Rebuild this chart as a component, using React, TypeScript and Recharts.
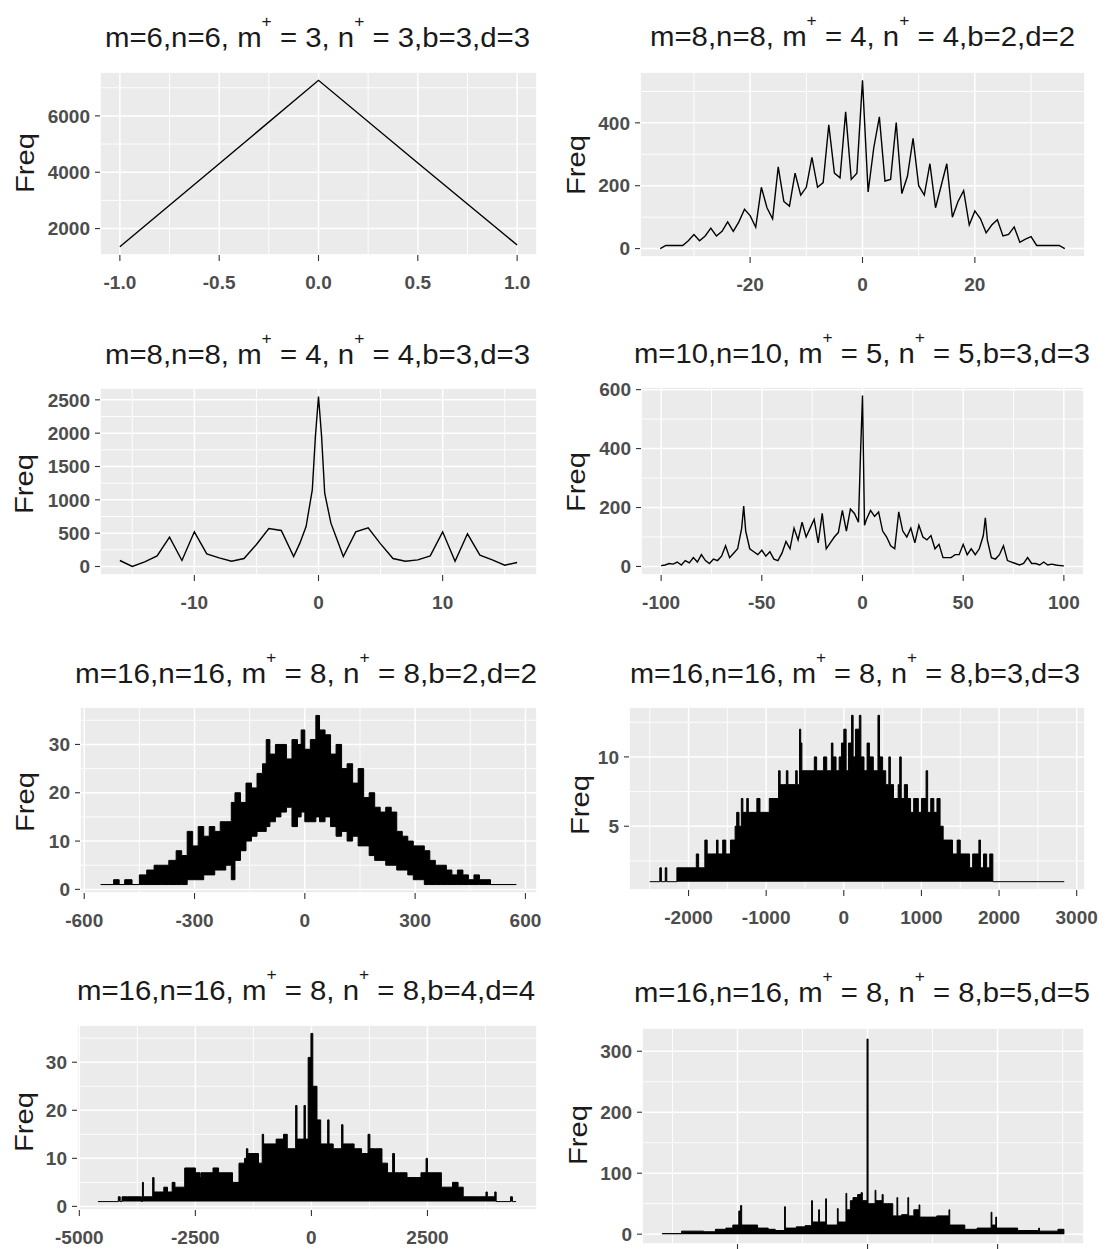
import React from "react";
import { ComposedChart, Line, Area, XAxis, YAxis, CartesianGrid } from "recharts";

const FONT = "'Liberation Sans', Arial, Helvetica, sans-serif";

// m, n, m+, n+, b, d for each panel title
const titleParams = [
  [6, 6, 3, 3, 3, 3],
  [8, 8, 4, 4, 2, 2],
  [8, 8, 4, 4, 3, 3],
  [10, 10, 5, 5, 3, 3],
  [16, 16, 8, 8, 2, 2],
  [16, 16, 8, 8, 3, 3],
  [16, 16, 8, 8, 4, 4],
  [16, 16, 8, 8, 5, 5],
];

// panel 1
const p1X = [-1, -0.5, 0, 0.5, 1];
const p1Freq = [1357, 4300, 7263, 4330, 1415];

// panel 2
const p2X = [
  -36, -35, -34, -33, -32, -31, -30, -29, -28, -27, -26, -25, -24, -23, -22, -21, -20, -19, -18,
  -17, -16, -15, -14, -13, -12, -11, -10, -9, -8, -7, -6, -5, -4, -3, -2, -1, 0, 1, 2, 3, 4, 5,
  6, 7, 8, 9, 10, 11, 12, 13, 14, 15, 16, 17, 18, 19, 20, 21, 22, 23, 24, 25, 26, 27, 28, 29,
  30, 31, 32, 33, 34, 35, 36,
];
const p2Freq = [
  0, 10, 10, 10, 10, 25, 45, 25, 40, 65, 40, 55, 85, 55, 85, 125, 105, 68, 195, 130, 95, 260,
  150, 135, 240, 170, 195, 290, 195, 210, 394, 240, 225, 435, 220, 240, 535, 180, 320, 419, 215,
  220, 401, 175, 230, 351, 200, 170, 270, 130, 200, 270, 100, 150, 184, 75, 120, 95, 50, 75, 92,
  40, 45, 69, 20, 30, 38, 10, 10, 10, 10, 10, 0,
];

// panel 3
const p3X = [
  -16, -15, -14, -13, -12, -11, -10, -9, -8, -7, -6, -5, -4, -3, -2, -1.5, -1, -0.5, -0.25, 0,
  0.25, 0.5, 1, 1.5, 2, 3, 4, 5, 6, 7, 8, 9, 10, 11, 12, 13, 14, 15, 16,
];
const p3Freq = [
  90, 0, 70, 160, 440, 90, 520, 190, 130, 80, 120, 330, 570, 540, 150, 350, 600, 1150, 1950,
  2550, 1950, 1100, 650, 400, 150, 520, 580, 340, 120, 80, 100, 160, 520, 80, 490, 170, 100, 20,
  60,
];

// panel 4
const p4X = [
  -100, -98, -96, -94, -92, -90, -88, -86, -84, -82, -80, -78, -76, -74, -72, -70, -68, -66, -64,
  -62, -60, -59, -58, -56, -54, -52, -50, -48, -46, -44, -42, -40, -38, -36, -34, -32, -30, -28,
  -26, -24, -22, -20, -18, -16, -14, -12, -10, -8, -6, -4, -2, -1, 0, 1, 2, 4, 6, 8, 10, 12, 14,
  16, 18, 20, 22, 24, 26, 28, 30, 32, 34, 36, 38, 40, 42, 44, 46, 48, 50, 52, 54, 56, 58, 60, 61,
  62, 64, 66, 68, 70, 72, 74, 76, 78, 80, 82, 84, 86, 88, 90, 92, 94, 96, 98, 100,
];
const p4Freq = [
  3, 5, 10, 8, 15, 5, 20, 12, 30, 15, 40, 20, 10, 25, 20, 35, 70, 30, 45, 60, 130, 205, 120, 60,
  50, 40, 55, 35, 50, 25, 20, 45, 85, 60, 130, 90, 150, 100, 130, 160, 80, 180, 60, 80, 100, 115,
  190, 120, 195, 180, 150, 380, 580, 140, 160, 190, 170, 185, 120, 100, 70, 60, 185, 120, 100,
  130, 80, 140, 100, 90, 105, 60, 75, 30, 30, 30, 40, 40, 75, 40, 60, 40, 60, 105, 165, 90, 30,
  25, 40, 70, 20, 15, 10, 5, 10, 30, 10, 10, 5, 15, 5, 8, 5, 3, 2,
];

// panel 5 (dense band: lower and upper edge)
const p5X = [
  -555, -520, -505, -490, -470, -450, -430, -410, -390, -370, -350, -335, -320, -305, -290, -275,
  -260, -245, -230, -215, -200, -190, -175, -160, -145, -130, -115, -105, -95, -80, -65, -50, -35,
  -20, -10, 0, 15, 30, 40, 55, 70, 85, 100, 115, 130, 145, 160, 175, 190, 205, 220, 235, 250, 265,
  280, 295, 310, 325, 340, 355, 370, 385, 400, 415, 430, 445, 460, 475, 490, 505, 575,
];
const p5Low = [
  1, 1, 1, 1, 1, 1, 1, 1, 1, 1, 1, 1, 2, 2, 2, 3, 3, 4, 4, 5, 2, 6, 8, 10, 11, 12, 12, 13, 14, 15,
  16, 17, 13, 15, 16, 14, 14, 15, 14, 15, 13, 11, 12, 10, 11, 9, 9, 7, 6, 6, 5, 5, 4, 4, 3, 2, 2,
  1, 1, 1, 1, 1, 1, 1, 1, 1, 1, 1, 1, 1, 1,
];
const p5High = [
  1, 2, 1, 2, 1, 3, 4, 5, 5, 6, 8, 7, 12, 9, 13, 11, 13, 12, 14, 14, 18, 20, 18, 22, 21, 24, 26,
  31, 28, 30, 30, 27, 31, 30, 33, 29, 31, 36, 33, 32, 28, 30, 25, 26, 22, 25, 19, 20, 17, 16, 17,
  16, 12, 11, 10, 9, 9, 8, 6, 5, 5, 4, 3, 4, 3, 2, 3, 2, 2, 1, 1,
];

// panel 6
const p6X = [
  -2500, -2370, -2350, -2300, -2280, -2150, -2050, -1980, -1900, -1870, -1790, -1760, -1700,
  -1640, -1620, -1560, -1520, -1460, -1400, -1380, -1350, -1320, -1300, -1250, -1230, -1150,
  -1120, -1080, -1000, -960, -900, -840, -820, -780, -740, -720, -680, -620, -600, -570, -555,
  -540, -500, -460, -420, -380, -350, -300, -260, -220, -160, -140, -100, -60, -30, 0, 30, 60,
  100, 120, 150, 200, 220, 260, 300, 330, 380, 440, 460, 500, 540, 580, 600, 640, 700, 720, 740,
  780, 820, 860, 900, 960, 1000, 1060, 1080, 1120, 1160, 1200, 1240, 1280, 1340, 1400, 1460, 1500,
  1560, 1620, 1660, 1700, 1740, 1760, 1800, 1840, 1880, 1920, 2840,
];
const p6Freq = [
  1, 2, 1, 2, 1, 2, 2, 2, 3, 2, 4, 3, 3, 4, 3, 4, 3, 4, 5, 6, 5, 7, 6, 7, 6, 6, 7, 6, 6, 7, 7, 9,
  8, 8, 9, 8, 8, 9, 8, 12, 11, 9, 9, 9, 9, 10, 9, 9, 10, 9, 11, 10, 9, 10, 11, 12, 9, 11, 13, 10,
  12, 13, 10, 9, 11, 10, 9, 13, 10, 9, 8, 10, 8, 7, 8, 10, 7, 8, 7, 6, 7, 6, 7, 9, 6, 7, 6, 7, 5,
  4, 4, 3, 4, 3, 3, 2, 3, 3, 4, 2, 3, 2, 3, 1, 1,
];

// panel 7
const p7X = [
  -4600, -4160, -4120, -4080, -3960, -3800, -3660, -3640, -3620, -3420, -3390, -3300, -3180,
  -3100, -3000, -2940, -2820, -2730, -2600, -2500, -2400, -2380, -2250, -2120, -2000, -1840,
  -1700, -1560, -1440, -1400, -1370, -1300, -1140, -1060, -1030, -940, -760, -600, -520, -340,
  -310, -220, -160, -130, -70, -10, 30, 60, 120, 200, 350, 380, 470, 650, 680, 780, 920, 1080,
  1220, 1260, 1380, 1520, 1640, 1750, 1790, 1900, 2060, 2210, 2360, 2470, 2500, 2600, 2800, 3040,
  3160, 3270, 3580, 3760, 3790, 3840, 3950, 3980, 4290, 4330, 4410,
];
const p7Freq = [
  1, 2, 1, 2, 2, 2, 1, 5, 2, 6, 3, 3, 4, 3, 5, 4, 4, 8, 8, 7, 6, 7, 7, 8, 7, 7, 5, 9, 10, 12, 11,
  11, 9, 15, 13, 13, 14, 15, 12, 21, 14, 14, 21, 14, 31, 36, 25, 25, 18, 13, 18, 13, 12, 17, 13,
  13, 12, 11, 15, 12, 12, 9, 7, 11, 7, 7, 6, 6, 7, 10, 7, 7, 4, 5, 4, 2, 2, 3, 2, 2, 3, 1, 2, 1, 1,
];

// panel 8
const p8X = [
  -7900, -7150, -6300, -5850, -5450, -5180, -4950, -4900, -4880, -4840, -4700, -4230, -3820,
  -3550, -3190, -3160, -3010, -2740, -2400, -2150, -2120, -1940, -1880, -1850, -1610, -1580,
  -1400, -1160, -1130, -930, -830, -800, -660, -560, -380, -250, -200, -60, -20, 20, 100, 290,
  320, 430, 560, 600, 770, 970, 1130, 1160, 1310, 1550, 1580, 1780, 1980, 2010, 2260, 2660, 3130,
  3160, 3340, 3740, 4210, 4750, 4780, 4930, 4960, 5230, 5770, 6580, 6610, 6980, 7320, 7550,
];
const p8Freq = [
  1, 5, 4, 8, 10, 15, 38, 15, 47, 15, 15, 10, 8, 6, 45, 10, 10, 12, 14, 55, 20, 20, 40, 20, 58,
  15, 15, 42, 20, 20, 67, 40, 55, 60, 65, 68, 55, 55, 320, 50, 50, 72, 55, 55, 65, 50, 50, 30, 60,
  30, 32, 60, 30, 40, 48, 28, 28, 30, 40, 15, 15, 8, 10, 36, 15, 28, 10, 10, 6, 10, 5, 5, 8, 0,
];

const zip = (xs: number[], ys: number[]) => xs.map((x, i) => ({ x, y: ys[i] }));
const zipRange = (xs: number[], lo: number[], hi: number[]) =>
  xs.map((x, i) => ({ x, range: [lo[i], hi[i]] }));

const panels: any[] = [
  {
    box: { left: 100, top: 72, width: 437, height: 183 },
    xDomain: [-1.1, 1.1],
    yDomain: [1062, 7558],
    xTicks: [-1, -0.5, 0, 0.5, 1],
    yTicks: [2000, 4000, 6000],
    xMinor: [-0.75, -0.25, 0.25, 0.75],
    yMinor: [3000, 5000, 7000],
    xFormat: (v: number) => v.toFixed(1),
    kind: "line",
    data: zip(p1X, p1Freq),
    title: { x1: 105, x2: 530, y: 47 },
    freq: { x: 25, y: 163 },
  },
  {
    box: { left: 640, top: 72, width: 445, height: 185 },
    xDomain: [-39.6, 39.6],
    yDomain: [-26.75, 561.75],
    xTicks: [-20, 0, 20],
    yTicks: [0, 200, 400],
    xMinor: [-30, -10, 10, 30],
    yMinor: [100, 300, 500],
    kind: "line",
    data: zip(p2X, p2Freq),
    title: { x1: 650, x2: 1075, y: 46 },
    freq: { x: 576, y: 165 },
  },
  {
    box: { left: 100, top: 388, width: 437, height: 187 },
    xDomain: [-17.6, 17.6],
    yDomain: [-127.5, 2677.5],
    xTicks: [-10, 0, 10],
    yTicks: [0, 500, 1000, 1500, 2000, 2500],
    xMinor: [-15, -5, 5, 15],
    yMinor: [250, 750, 1250, 1750, 2250],
    kind: "line",
    data: zip(p3X, p3Freq),
    title: { x1: 105, x2: 530, y: 364 },
    freq: { x: 24, y: 484 },
  },
  {
    box: { left: 641, top: 387, width: 443, height: 188 },
    xDomain: [-110, 110],
    yDomain: [-29, 609],
    xTicks: [-100, -50, 0, 50, 100],
    yTicks: [0, 200, 400, 600],
    xMinor: [-75, -25, 25, 75],
    yMinor: [100, 300, 500],
    kind: "line",
    data: zip(p4X, p4Freq),
    title: { x1: 634, x2: 1090, y: 363 },
    freq: { x: 576, y: 482 },
  },
  {
    box: { left: 80, top: 707, width: 457, height: 186 },
    xDomain: [-611.5, 631.5],
    yDomain: [-0.75, 37.75],
    xTicks: [-600, -300, 0, 300, 600],
    yTicks: [0, 10, 20, 30],
    xMinor: [-450, -150, 150, 450],
    yMinor: [5, 15, 25, 35],
    kind: "band",
    data: zipRange(p5X, p5Low, p5High),
    title: { x1: 75, x2: 537, y: 683 },
    freq: { x: 25, y: 802 },
  },
  {
    box: { left: 629, top: 707, width: 456, height: 183 },
    xDomain: [-2767, 3107],
    yDomain: [0.4, 13.6],
    xTicks: [-2000, -1000, 0, 1000, 2000, 3000],
    yTicks: [5, 10],
    xMinor: [-2500, -1500, -500, 500, 1500, 2500],
    yMinor: [2.5, 7.5, 12.5],
    kind: "area",
    base: 1,
    data: zip(p6X, p6Freq),
    title: { x1: 630, x2: 1080, y: 683 },
    freq: { x: 580, y: 805 },
  },
  {
    box: { left: 77, top: 1025, width: 460, height: 185 },
    xDomain: [-5050, 4860],
    yDomain: [-0.75, 37.75],
    xTicks: [-5000, -2500, 0, 2500],
    yTicks: [0, 10, 20, 30],
    xMinor: [-3750, -1250, 1250, 3750],
    yMinor: [5, 15, 25, 35],
    kind: "area",
    base: 1,
    data: zip(p7X, p7Freq),
    title: { x1: 77, x2: 535, y: 1000 },
    freq: { x: 24, y: 1122 },
  },
  {
    // x tick labels of this panel fall below the bottom edge of the picture
    box: { left: 642, top: 1028, width: 442, height: 216 },
    xDomain: [-8672, 8322],
    yDomain: [-16.1, 338.1],
    xTicks: [-5000, 0, 5000],
    yTicks: [0, 100, 200, 300],
    xMinor: [-7500, -2500, 2500, 7500],
    yMinor: [50, 150, 250],
    xFormat: () => "",
    kind: "area",
    base: 0,
    data: zip(p8X, p8Freq),
    title: { x1: 634, x2: 1090, y: 1002 },
    freq: { x: 578, y: 1135 },
  },
];

const tickStyle = { fill: "#4d4d4d", fontSize: 19, fontFamily: FONT, fontWeight: 700 };

function Panel({ cfg }: any) {
  const ML = 70;
  const MT = 14;
  const MR = 16;
  const XH = 44;
  const { box } = cfg;
  return (
    <div style={{ position: "absolute", left: box.left - ML, top: box.top - MT }}>
      <ComposedChart
        width={box.width + ML + MR}
        height={box.height + MT + XH}
        data={cfg.data}
        margin={{ top: MT, right: MR, bottom: 0, left: 0 }}
      >
        <CartesianGrid fill="#ebebeb" fillOpacity={1} stroke="#ffffff" strokeWidth={1.5} />
        {/* minor grid, drawn from hidden axes that carry the minor breaks */}
        <CartesianGrid
          xAxisId="minor"
          yAxisId="minor"
          fill="none"
          stroke="#ffffff"
          strokeWidth={0.9}
        />
        <XAxis
          type="number"
          dataKey="x"
          domain={cfg.xDomain}
          ticks={cfg.xTicks}
          interval={0}
          allowDataOverflow
          height={XH}
          axisLine={false}
          tickSize={6}
          tickMargin={15}
          tickLine={{ stroke: "#333333", strokeWidth: 1.1 }}
          tick={tickStyle}
          tickFormatter={cfg.xFormat}
        />
        <YAxis
          type="number"
          domain={cfg.yDomain}
          ticks={cfg.yTicks}
          interval={0}
          allowDataOverflow
          width={ML}
          axisLine={false}
          tickSize={5}
          tickMargin={5}
          tickLine={{ stroke: "#333333", strokeWidth: 1.1 }}
          tick={tickStyle}
        />
        <XAxis
          xAxisId="minor"
          type="number"
          dataKey="x"
          domain={cfg.xDomain}
          ticks={cfg.xMinor}
          interval={0}
          allowDataOverflow
          hide
        />
        <YAxis
          yAxisId="minor"
          type="number"
          domain={cfg.yDomain}
          ticks={cfg.yMinor}
          interval={0}
          allowDataOverflow
          hide
        />
        {cfg.kind === "line" && (
          <Line
            type="linear"
            dataKey="y"
            stroke="#000000"
            strokeWidth={1.4}
            dot={false}
            activeDot={false}
            isAnimationActive={false}
          />
        )}
        {cfg.kind === "area" && (
          <Area
            type="stepAfter"
            dataKey="y"
            baseValue={cfg.base}
            stroke="#000000"
            strokeWidth={1}
            fill="#000000"
            fillOpacity={1}
            dot={false}
            activeDot={false}
            isAnimationActive={false}
          />
        )}
        {cfg.kind === "band" && (
          <Area
            type="stepAfter"
            dataKey="range"
            stroke="#000000"
            strokeWidth={1}
            fill="#000000"
            fillOpacity={1}
            dot={false}
            activeDot={false}
            isAnimationActive={false}
          />
        )}
      </ComposedChart>
    </div>
  );
}

function Title({ p, x1, x2, y }: any) {
  const [m, n, mp, np, b, d] = p;
  return (
    <text
      x={x1}
      y={y}
      textLength={x2 - x1}
      lengthAdjust="spacingAndGlyphs"
      fontSize={27}
      fontFamily={FONT}
      fill="#1a1a1a"
      style={{ whiteSpace: "pre" }}
    >
      {`m=${m},n=${n}, m`}
      <tspan dy={-20} fontSize={16}>+</tspan>
      <tspan dy={20}>{` = ${mp}, n`}</tspan>
      <tspan dy={-20} fontSize={16}>+</tspan>
      <tspan dy={20}>{` = ${np},b=${b},d=${d}`}</tspan>
    </text>
  );
}

export default function App() {
  return (
    <div
      style={{
        position: "absolute",
        left: 0,
        top: 0,
        width: 1107,
        height: 1249,
        overflow: "hidden",
        background: "#ffffff",
      }}
    >
      {panels.map((cfg, i) => (
        <Panel key={i} cfg={cfg} />
      ))}
      <svg
        width={1107}
        height={1249}
        style={{ position: "absolute", left: 0, top: 0, pointerEvents: "none" }}
      >
        {panels.map((cfg, i) => (
          <g key={i}>
            <Title p={titleParams[i]} {...cfg.title} />
            <text
              transform={`translate(${cfg.freq.x},${cfg.freq.y}) rotate(-90)`}
              textAnchor="middle"
              dominantBaseline="central"
              fontSize={25}
              textLength={60}
              lengthAdjust="spacingAndGlyphs"
              fontFamily={FONT}
              fill="#1a1a1a"
            >
              Freq
            </text>
          </g>
        ))}
      </svg>
    </div>
  );
}
